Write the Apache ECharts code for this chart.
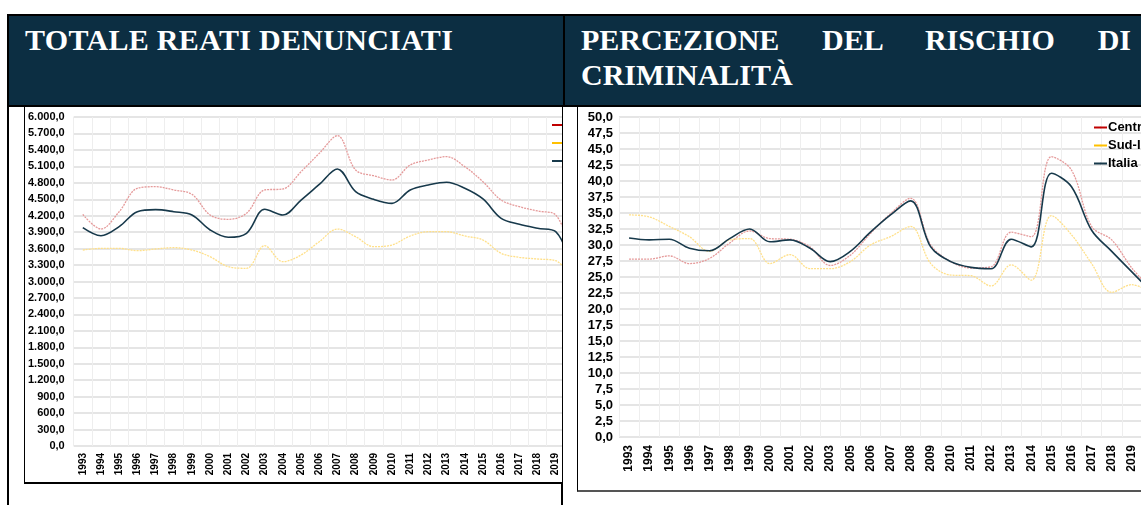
<!DOCTYPE html>
<html>
<head>
<meta charset="utf-8">
<script src="https://cdn.jsdelivr.net/npm/echarts@6/dist/echarts.min.js"></script>
<style>
  body { margin: 0; width: 1141px; height: 505px; overflow: hidden; background: #fff; position: relative; }
  .head { position: absolute; top: 14px; height: 89px; background: #0c2e42; border: 2px solid #000;
          color: #fff; font-family: "Liberation Serif", serif; font-weight: bold; font-size: 30px; line-height: 35px; }
  #headL { left: 7px; width: 554px; }
  #headR { left: 563px; width: 600px; }
  #headL span { position: absolute; left: 16px; top: 6px; letter-spacing: 0.3px; }
  #headR div { position: absolute; left: 16px; top: 6px; width: 550px; text-align: justify; text-align-last: left; }
  .frame { position: absolute; border-left: 2px solid #000; }
  #outerL { left: 7px; top: 105px; height: 400px; }
  #outerM { left: 561px; top: 105px; height: 400px; }
  .wrap { position: absolute; overflow: hidden; background: #fff; }
  #wrapL { left: 24px; top: 107px; width: 537px; height: 375px; border-left: 1px solid #000; border-bottom: 2px solid #000; }
  #wrapR { left: 577px; top: 107px; width: 570px; height: 383px; border-left: 1px solid #000; border-bottom: 2px solid #555; }
  #chartL { width: 620px; height: 375px; }
  #chartR { width: 660px; height: 383px; }
</style>
</head>
<body>
<div class="head" id="headL"><span>TOTALE REATI DENUNCIATI</span></div>
<div class="head" id="headR"><div>PERCEZIONE DEL RISCHIO DI CRIMINALITÀ</div></div>
<div class="frame" id="outerL"></div>
<div class="frame" id="outerM"></div>
<div class="wrap" id="wrapL"><div id="chartL"></div></div>
<div class="wrap" id="wrapR"><div id="chartR"></div></div>
<script>
// totale reati denunciati (per 100.000 abitanti)
var anniReati = ['1993','1994','1995','1996','1997','1998','1999','2000','2001','2002','2003','2004','2005','2006',
  '2007','2008','2009','2010','2011','2012','2013','2014','2015','2016','2017','2018','2019','2020'];
var reatiCentroNord = [4225,3957,4273,4700,4729,4669,4590,4213,4134,4243,4669,4687,5003,5337,
  5659,5033,4929,4851,5125,5216,5277,5094,4820,4486,4364,4286,4213,3420];
var reatiSudIsole = [3574,3604,3604,3562,3593,3617,3574,3452,3270,3240,3653,3361,3483,3726,
  3957,3817,3635,3666,3830,3908,3908,3830,3757,3514,3441,3410,3380,2980];
var reatiItalia = [3981,3835,4000,4273,4310,4273,4213,3940,3806,3879,4317,4213,4486,4770,
  5052,4638,4498,4425,4669,4760,4809,4700,4505,4152,4043,3970,3908,3170];

// percezione del rischio di criminalità (%), il 2004 manca
var anniPerc = ['1993','1994','1995','1996','1997','1998','1999','2000','2001','2002','2003',
  '2005','2006','2007','2008','2009','2010','2011','2012','2013','2014','2015','2016','2017','2018','2019','2020'];
var percCentroNord = [27.8,27.8,28.3,27.1,27.9,30.3,32.2,31.0,30.9,29.7,26.8,
  28.4,31.8,34.9,37.3,30.0,27.4,26.4,26.6,32.0,31.3,43.8,41.7,32.9,30.8,26.4,23.0];
var percSudIsole = [34.7,34.4,32.9,31.3,29.0,30.8,31.0,27.1,28.5,26.3,26.3,
  27.4,30.0,31.3,32.9,27.1,25.3,25.2,23.6,26.9,24.5,34.6,31.6,27.1,22.6,23.8,22.5];
var percItalia = [31.1,30.8,30.9,29.5,29.1,31.0,32.5,30.5,30.8,29.5,27.4,
  29.0,32.0,34.7,36.9,29.7,27.4,26.5,26.3,30.9,29.7,41.2,39.1,32.3,29.0,25.8,22.6];

var nomi = ['Centro-Nord', 'Sud-Isole', 'Italia'];

// 6000 -> "6.000,0"
function fmtIt(v) {
  var p = v.toFixed(1).split('.');
  p[0] = p[0].replace(/\B(?=(\d{3})+(?!\d))/g, '.');
  return p.join(',');
}

function makeOption(cfg) {
  return {
    animation: false,
    grid: { left: cfg.left, top: cfg.top, width: cfg.width, height: cfg.height },
    legend: {
      orient: 'vertical', left: cfg.legLeft, top: cfg.legTop, padding: 0,
      itemWidth: 13, itemHeight: 2, itemGap: cfg.legGap,
      textStyle: { fontFamily: 'Liberation Sans', fontWeight: 'bold', fontSize: cfg.legFont, color: '#000', padding: [0, 0, 0, -4] },
      data: [
        { name: nomi[0], lineStyle: { color: '#c00000', type: 'solid', opacity: 1 } },
        { name: nomi[1], lineStyle: { color: '#ffc000', type: 'solid', opacity: 1 } },
        { name: nomi[2], lineStyle: { color: '#17394b', type: 'solid', opacity: 1 } }
      ]
    },
    xAxis: {
      type: 'category', data: cfg.cats, boundaryGap: true,
      axisLine: { show: false }, axisTick: { show: false },
      axisLabel: { rotate: 90, interval: 0, margin: cfg.lblMargin, color: '#000',
        fontFamily: 'Liberation Sans', fontWeight: 'bold', fontSize: cfg.xFont },
      splitLine: { show: true, interval: 0, lineStyle: { color: '#eeeeee', width: 1 } }
    },
    yAxis: {
      type: 'value', min: 0, max: cfg.max, interval: cfg.step,
      axisLine: { show: false }, axisTick: { show: false },
      axisLabel: { formatter: fmtIt, color: '#000', margin: cfg.yMargin,
        fontFamily: 'Liberation Sans', fontWeight: 'bold', fontSize: cfg.yFont },
      splitLine: { lineStyle: { color: '#dcdcdc', width: 1.5 } }
    },
    series: [
      { name: nomi[0], type: 'line', data: cfg.s1, smooth: 0.35, symbol: 'none',
        itemStyle: { color: '#c00000' },
        lineStyle: { color: '#e59a9a', width: 1.3, type: [2, 1] } },
      { name: nomi[1], type: 'line', data: cfg.s2, smooth: 0.35, symbol: 'none',
        itemStyle: { color: '#ffc000' },
        lineStyle: { color: '#ffe08a', width: 1.3, type: [2, 1] } },
      { name: nomi[2], type: 'line', data: cfg.s3, smooth: 0.35, symbol: 'none',
        itemStyle: { color: '#17394b' },
        lineStyle: { color: '#17394b', width: 1.6 } }
    ]
  };
}

var chartL = echarts.init(document.getElementById('chartL'));
chartL.setOption(makeOption({
  cats: anniReati, s1: reatiCentroNord, s2: reatiSudIsole, s3: reatiItalia,
  left: 48, top: 10, width: 510, height: 329, max: 6000, step: 300,
  legLeft: 526, legTop: 12, legGap: 6, legFont: 12,
  lblMargin: 7, xFont: 10, yFont: 11, yMargin: 9
}));

var chartR = echarts.init(document.getElementById('chartR'));
chartR.setOption(makeOption({
  cats: anniPerc, s1: percCentroNord, s2: percSudIsole, s3: percItalia,
  left: 41, top: 10, width: 543, height: 320, max: 50, step: 2.5,
  legLeft: 515, legTop: 14, legGap: 5, legFont: 13,
  lblMargin: 8, xFont: 12, yFont: 13, yMargin: 6
}));
</script>
</body>
</html>
